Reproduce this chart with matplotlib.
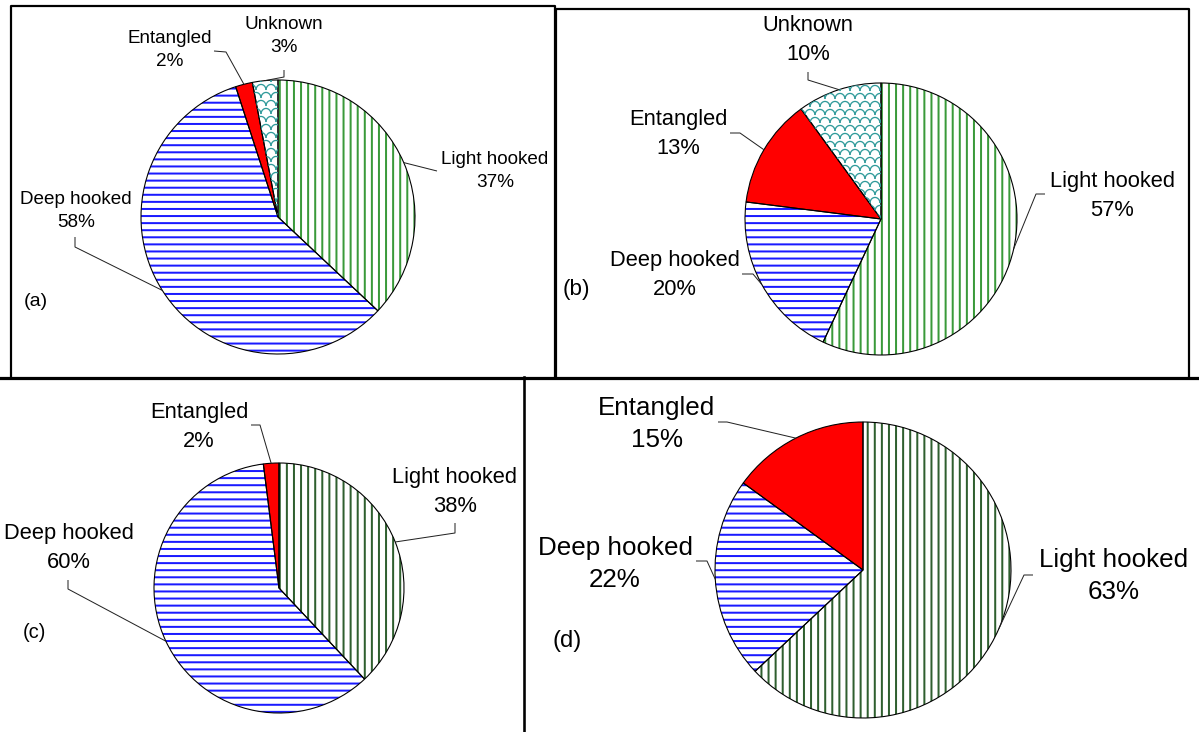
import numpy as np
import matplotlib
matplotlib.use('Agg')
import matplotlib.pyplot as plt
from matplotlib.collections import LineCollection

# dpi 85 so that the '--' / '||' hatches come out ~7 px apart
DPI = 85
W, H = 1199, 732
PX = 72.0 / DPI   # one pixel in points

plt.rcParams['font.family'] = ['Liberation Sans', 'DejaVu Sans']
plt.rcParams['hatch.linewidth'] = 2 * PX

# ---- data ----
cats_a = ['Light hooked', 'Deep hooked', 'Entangled', 'Unknown']
vals_a = [37, 58, 2, 3]
cats_b = ['Light hooked', 'Deep hooked', 'Entangled', 'Unknown']
vals_b = [57, 20, 13, 10]
cats_c = ['Light hooked', 'Deep hooked', 'Entangled']
vals_c = [38, 60, 2]
cats_d = ['Light hooked', 'Deep hooked', 'Entangled']
vals_d = [63, 22, 15]

# ---- layout (pixels, y down) ----
layout_a = {
    'Light hooked': dict(text=(495, 171), path=[(437, 171)]),
    'Deep hooked': dict(text=(76, 211), path=[(75, 237), (75, 247)]),
    'Entangled': dict(text=(170, 50), path=[(214, 51), (226, 52)]),
    'Unknown': dict(text=(284, 36), path=[(284, 70), (284, 77)]),
}
layout_b = {
    'Light hooked': dict(text=(1112, 196), path=[(1045, 194), (1036, 194)]),
    'Deep hooked': dict(text=(675, 275), path=[(742, 274), (753, 274)]),
    'Entangled': dict(text=(678, 134), path=[(730, 133), (740, 133)]),
    'Unknown': dict(text=(808, 40), path=[(808, 72), (808, 80)]),
}
layout_c = {
    'Light hooked': dict(text=(455, 492), path=[(455, 523), (455, 533)]),
    'Deep hooked': dict(text=(69, 548), path=[(68, 580), (68, 589)]),
    'Entangled': dict(text=(199, 427), path=[(251, 425), (260, 425)]),
}
layout_d = {
    'Light hooked': dict(text=(1114, 576), path=[(1033, 575), (1024, 575)]),
    'Deep hooked': dict(text=(615, 564), path=[(696, 561), (707, 561)]),
    'Entangled': dict(text=(657, 424), path=[(718, 422), (727, 422)]),
}

GREEN_LIGHT = '#3a9a3a'
GREEN_DARK = '#2f5f2f'
BLUE = '#1a1aff'
RED = '#ff0000'
TEAL = '#2f9a9a'


def shingle(ax, wedge, cx, cy, r, color):
    # fish-scale texture clipped to the wedge
    segs = []
    sx, sy = 10, 8
    t = np.linspace(0, np.pi, 10)
    for j, y0 in enumerate(np.arange(cy - r - sy, cy + r + sy, sy)):
        off = (j % 2) * sx / 2
        for x0 in np.arange(cx - r - sx + off, cx + r + sx, sx):
            segs.append(np.column_stack([x0 + sx / 2 * np.cos(t), y0 + sy * 0.7 * np.sin(t)]))
    lc = LineCollection(segs, colors=color, linewidths=1.3 * PX)
    ax.add_collection(lc)
    lc.set_clip_path(wedge)


def draw_panel(ax, cats, vals, cpx, r, green, fs, layout, tag, tag_pos, tag_fs):
    cx, cy = cpx[0], H - cpx[1]
    wedges, _ = ax.pie(vals, startangle=90, counterclock=False, center=(cx, cy),
                       radius=r, colors=['white'] * len(vals),
                       wedgeprops=dict(linewidth=0))
    for w, cat in zip(wedges, cats):
        if cat == 'Light hooked':
            w.set_edgecolor(green)
            w.set_hatch('||')
        elif cat == 'Deep hooked':
            w.set_edgecolor(BLUE)
            w.set_hatch('--')
        elif cat == 'Entangled':
            w.set_facecolor(RED)
        else:
            shingle(ax, w, cx, cy, r, TEAL)
    ax.pie(vals, startangle=90, counterclock=False, center=(cx, cy), radius=r,
           wedgeprops=dict(facecolor='none', edgecolor='black', linewidth=1.1 * PX))

    for w, cat, v in zip(wedges, cats, vals):
        lay = layout[cat]
        tx, ty = lay['text']
        ax.text(tx, H - ty, '%s\n%d%%' % (cat, v), ha='center', va='center',
                fontsize=fs, linespacing=1.45)
        th = np.deg2rad((w.theta1 + w.theta2) / 2)
        pts = [(x, H - y) for x, y in lay['path']] + [(cx + r * np.cos(th), cy + r * np.sin(th))]
        pts = np.array(pts)
        ax.plot(pts[:, 0], pts[:, 1], color='#222222', lw=1 * PX, solid_capstyle='butt')

    ax.text(tag_pos[0], H - tag_pos[1], tag, ha='center', va='center', fontsize=tag_fs)


fig = plt.figure(figsize=(W / DPI, H / DPI), dpi=DPI)
ax = fig.add_axes([0, 0, 1, 1])

draw_panel(ax, cats_a, vals_a, (278, 217), 137, GREEN_LIGHT, 16, layout_a, '(a)', (36, 302), 16.5)
draw_panel(ax, cats_b, vals_b, (881, 219), 136, GREEN_LIGHT, 18.5, layout_b, '(b)', (576, 290), 19)
draw_panel(ax, cats_c, vals_c, (279, 588), 125, GREEN_DARK, 18.5, layout_c, '(c)', (34, 632), 17)
draw_panel(ax, cats_d, vals_d, (863, 570), 148, GREEN_DARK, 22, layout_d, '(d)', (567, 641), 20)

# panel frames
box_lw = 2.2 * PX
def frame(xs, ys, lw):
    ax.plot(xs, [H - y for y in ys], color='black', lw=lw, clip_on=False,
            solid_capstyle='projecting')

frame([11, 11, 555, 555], [377, 5.5, 5.5, 377], box_lw)
frame([556, 556, 1189, 1189], [377, 9, 9, 377], box_lw)
frame([0, 1198], [377.5, 377.5], 3.2 * PX)
frame([524, 524], [377, 732], 2.6 * PX)

ax.set_xlim(0, W)
ax.set_ylim(0, H)
ax.set_aspect('auto')
ax.axis('off')

fig.savefig('out.png', dpi=DPI)
